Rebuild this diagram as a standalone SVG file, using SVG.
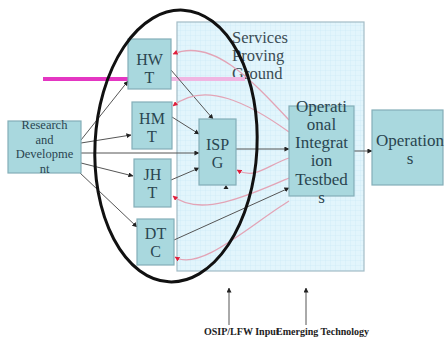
<svg xmlns="http://www.w3.org/2000/svg" width="447" height="343" viewBox="0 0 447 343">
<defs>
<pattern id="grid" width="5" height="5" patternUnits="userSpaceOnUse">
<path d="M5 0 L0 0 0 5" fill="none" stroke="#c6e6f4" stroke-width="0.6"/>
</pattern>
<marker id="ag" viewBox="0 0 6 6" refX="5.5" refY="3" markerWidth="5" markerHeight="5" markerUnits="userSpaceOnUse" orient="auto">
<path d="M0 0 L6 3 L0 6 Z" fill="#222"/>
</marker>
<marker id="ar" viewBox="0 0 6 6" refX="5.5" refY="3" markerWidth="5" markerHeight="5" markerUnits="userSpaceOnUse" orient="auto">
<path d="M0 0 L6 3 L0 6 Z" fill="#e0203c"/>
</marker>
</defs>
<style>
.box{fill:#a9d8de;stroke:#84aeb8;stroke-width:1.2}
.t{font-family:"Liberation Serif",serif;fill:#2a4550;text-anchor:middle}
.g{fill:none;stroke:#555;stroke-width:1;marker-end:url(#ag)}
.p{fill:none;stroke:#e3a4b6;stroke-width:1.3;marker-end:url(#ar)}
.lbl{font-family:"Liberation Serif",serif;font-weight:bold;font-size:10px;fill:#222}
</style>
<rect width="447" height="343" fill="#ffffff"/>
<g id="spg">
<rect x="177" y="22" width="187" height="249" fill="#e2f5fc"/>
<rect x="177" y="22" width="187" height="249" fill="url(#grid)" stroke="#a3bcc6" stroke-width="1.2"/>
<text class="t" style="text-anchor:start;font-size:16.5px;fill:#3b4c54" x="232" y="43">Services</text>
<text class="t" style="text-anchor:start;font-size:16.5px;fill:#3b4c54" x="232" y="61">Proving</text>
<text class="t" style="text-anchor:start;font-size:16.5px;fill:#3b4c54" x="232" y="79">Ground</text>
</g>
<g id="pinkline">
<line x1="43" y1="79" x2="128" y2="79" stroke="#e436c2" stroke-width="4"/>
<line x1="171" y1="79" x2="245" y2="79" stroke="#f0b6e2" stroke-width="4"/>
</g>
<g id="connectors">
<path class="g" d="M81 140 L128 81"/>
<path class="g" d="M81 143 L131 135"/>
<path class="g" d="M81 153 L199 153"/>
<path class="g" d="M81 163 L133 176"/>
<path class="g" d="M79 172 L137 227"/>
<path class="g" d="M171 70 L213 119"/>
<path class="g" d="M172 117 L199 134"/>
<path class="g" d="M171 180 L199 168"/>
<path class="g" d="M236 149 L289 149"/>
<path class="g" d="M174 240 L289 188"/>
<path class="g" d="M354 151 L372 151"/>
<path class="g" d="M229 325 L229 288"/>
<path class="g" d="M306 325 L306 288"/>
<path d="M223.5 189 L226 185 L228.5 189 Z" fill="#222"/>
<path class="p" d="M289 120 C250 78 212 38 173 54"/>
<path class="p" d="M289 132 C250 104 205 80 173 106"/>
<path class="p" d="M289 158 C268 165 255 180 237 170"/>
<path class="p" d="M289 178 C250 195 200 218 173 196"/>
<path class="p" d="M289 201 C250 225 200 272 175 257"/>
</g>
<g id="rd">
<rect class="box" x="8" y="121" width="73" height="52"/>
<text class="t" style="font-size:12.5px" x="44.5" y="129">Research</text>
<text class="t" style="font-size:12.5px" x="44.5" y="143.5">and</text>
<text class="t" style="font-size:12.5px" x="44.5" y="158">Developme</text>
<text class="t" style="font-size:12.5px" x="44.5" y="173">nt</text>
</g>
<g id="hwt">
<rect class="box" x="128" y="39" width="43" height="50"/>
<text class="t" style="font-size:16px" x="149.5" y="65">HW</text>
<text class="t" style="font-size:16px" x="149.5" y="83">T</text>
</g>
<g id="hmt">
<rect class="box" x="132" y="102" width="40" height="47"/>
<text class="t" style="font-size:16px" x="152" y="124">HM</text>
<text class="t" style="font-size:16px" x="152" y="142">T</text>
</g>
<g id="jht">
<rect class="box" x="134" y="159" width="37" height="48"/>
<text class="t" style="font-size:16px" x="152.5" y="180">JH</text>
<text class="t" style="font-size:16px" x="152.5" y="198">T</text>
</g>
<g id="dtc">
<rect class="box" x="137" y="219" width="37" height="46"/>
<text class="t" style="font-size:16px" x="155.5" y="239">DT</text>
<text class="t" style="font-size:16px" x="155.5" y="257">C</text>
</g>
<g id="ispg">
<rect class="box" x="199" y="119" width="37" height="66"/>
<text class="t" style="font-size:16px" x="217.5" y="150">ISP</text>
<text class="t" style="font-size:16px" x="217.5" y="168">G</text>
</g>
<g id="oit">
<rect class="box" x="289" y="106" width="65" height="90"/>
<text class="t" style="font-size:17px" x="321.5" y="112">Operati</text>
<text class="t" style="font-size:17px" x="321.5" y="130">onal</text>
<text class="t" style="font-size:17px" x="321.5" y="148">Integrat</text>
<text class="t" style="font-size:17px" x="321.5" y="166">ion</text>
<text class="t" style="font-size:17px" x="321.5" y="185">Testbed</text>
<text class="t" style="font-size:17px" x="321.5" y="203">s</text>
</g>
<g id="ops">
<rect class="box" x="372" y="110" width="71" height="75"/>
<text class="t" style="font-size:17px" x="410" y="146">Operation</text>
<text class="t" style="font-size:17px" x="410" y="164">s</text>
</g>
<g id="labels">
<text class="lbl" x="204" y="335">OSIP/LFW Input</text>
<text class="lbl" x="276" y="335">Emerging Technology</text>
</g>
<g id="ellipse">
<ellipse cx="176" cy="146" rx="81" ry="136" transform="rotate(3 176 146)" fill="none" stroke="#111" stroke-width="3"/>
</g>
</svg>
